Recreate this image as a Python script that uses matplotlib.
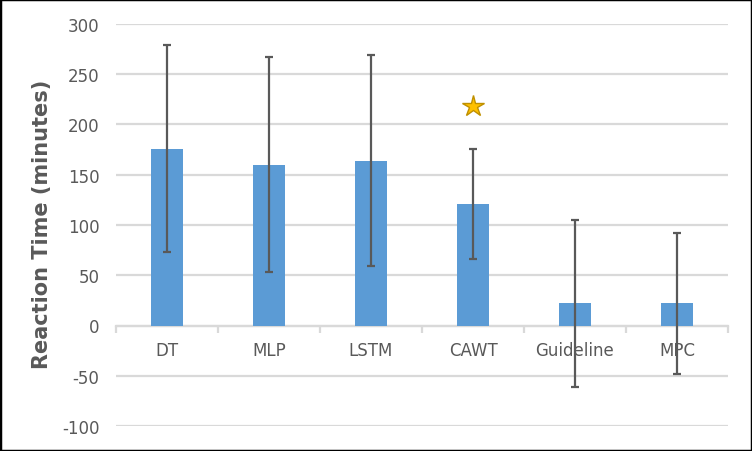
import matplotlib.pyplot as plt
import numpy as np
from matplotlib.patches import Rectangle

plt.rcParams['font.family'] = ['DejaVu Sans']

# values
models = ['DT', 'MLP', 'LSTM', 'CAWT', 'Guideline', 'MPC']
mean_time = [176, 160, 164, 121, 22, 22]
err_time = [103, 107, 105, 55, 83, 70]
star_value = 218   # marker above CAWT
star_model = 'CAWT'
yticks = [-100, -50, 0, 50, 100, 150, 200, 250, 300]

grey = '#595959'
gridc = '#D9D9D9'

fig = plt.figure(figsize=(7.52, 4.52), dpi=100)
ax = fig.add_axes([116 / 752, 25 / 452, 612 / 752, 402 / 452])

x = np.arange(len(models))
ax.bar(x, mean_time, width=0.31, color='#5B9BD5', zorder=2)
ax.errorbar(x, mean_time, yerr=err_time, fmt='none', ecolor=grey,
            elinewidth=1.6, capsize=3, capthick=1.6, zorder=3)

# star for the proposed model
sx = models.index(star_model)
ax.plot(sx, star_value, marker='*', markersize=16, color='#FFC000',
        markeredgecolor='#BF9000', markeredgewidth=1.0, zorder=4)

ax.set_xlim(-0.5, len(models) - 0.5)
ax.set_ylim(-100, 300)
ax.set_yticks(yticks)
ax.set_yticklabels([str(v) for v in yticks])
ax.yaxis.grid(True, color=gridc, linewidth=1.6, zorder=0)
ax.set_axisbelow(True)

for s in ['top', 'right', 'left']:
    ax.spines[s].set_visible(False)
ax.spines['bottom'].set_position(('data', 0))
ax.spines['bottom'].set_color(gridc)
ax.spines['bottom'].set_linewidth(1.6)
ax.spines['bottom'].set_zorder(1)

ax.set_xticks(x)
ax.set_xticklabels(models)
ax.set_xticks(np.arange(-0.5, len(models)), minor=True)
ax.tick_params(axis='x', which='major', length=0, pad=11, labelsize=12, labelcolor=grey)
ax.tick_params(axis='x', which='minor', length=5, width=1.6, color=gridc, direction='out')
ax.tick_params(axis='y', length=0, pad=12, labelsize=12, labelcolor=grey)

ax.set_ylabel('Reaction Time (minutes)', fontsize=15, fontweight='bold', color=grey)
ax.yaxis.set_label_coords(-0.104, 0.505)

# black frame round the whole picture
fig.patches.append(Rectangle((0, 0), 1, 1, transform=fig.transFigure,
                             fill=False, edgecolor='black', linewidth=2.5))

fig.savefig('out.png', dpi=100)
